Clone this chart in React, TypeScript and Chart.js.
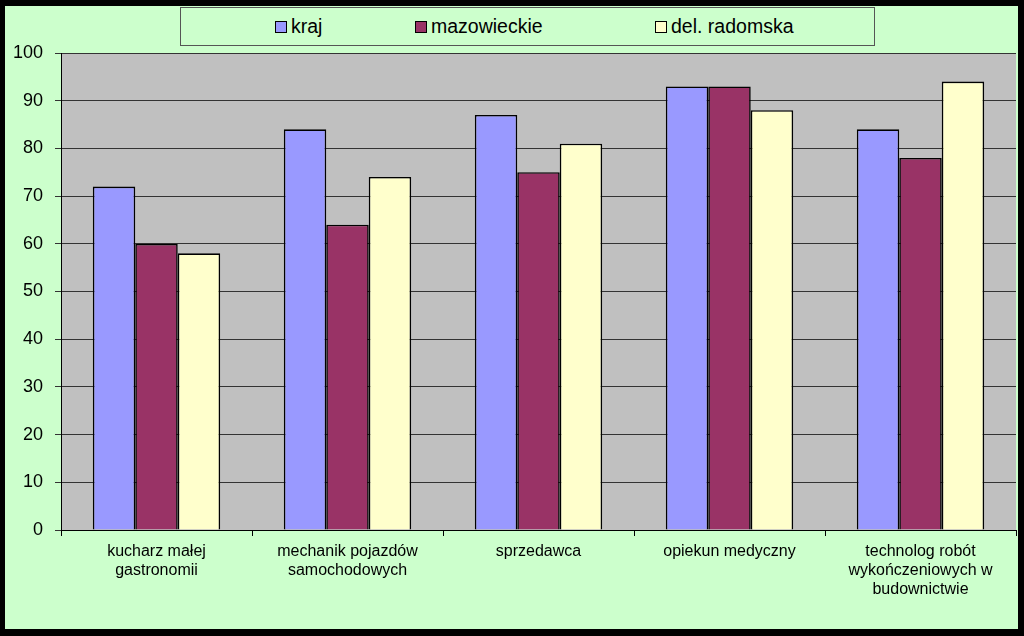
import React, { useEffect, useRef } from "react";
import { Chart, registerables } from "chart.js";

Chart.register(...registerables);

const categories: string[][] = [
  ["kucharz małej", "gastronomii"],
  ["mechanik pojazdów", "samochodowych"],
  ["sprzedawca"],
  ["opiekun medyczny"],
  ["technolog robót", "wykończeniowych w", "budownictwie"],
];
const seriesNames = ["kraj", "mazowieckie", "del. radomska"];
const kraj = [72, 84, 87, 93, 84];
const mazowieckie = [60, 64, 75, 93, 78];
const delRadomska = [58, 74, 81, 88, 94];
const seriesColors = ["#9999FF", "#993366", "#FFFFCC"];
const yTicks = [0, 10, 20, 30, 40, 50, 60, 70, 80, 90, 100];

const FONT = "'Liberation Sans', Arial, sans-serif";

const plotBg = {
  id: "plotBg",
  beforeDraw(chart: any) {
    const { ctx, chartArea } = chart;
    ctx.save();
    ctx.fillStyle = "#C0C0C0";
    ctx.fillRect(chartArea.left, chartArea.top, chartArea.right - chartArea.left, chartArea.bottom - chartArea.top);
    ctx.restore();
  },
};

export default function App() {
  const ref = useRef<HTMLCanvasElement>(null);
  useEffect(() => {
    document.body.style.margin = "0";
    const values = [kraj, mazowieckie, delRadomska];
    const chart = new Chart(ref.current!, {
      type: "bar",
      data: {
        labels: categories,
        datasets: seriesNames.map((n, i) => ({
          label: n,
          data: values[i],
          backgroundColor: seriesColors[i],
          borderColor: "#000",
          borderWidth: 1.6,
          categoryPercentage: 0.667,
          barPercentage: 1,
        })),
      },
      options: {
        animation: false,
        responsive: false,
        maintainAspectRatio: false,
        layout: { padding: { top: 53, right: 8, left: 0, bottom: 0 } },
        plugins: { legend: { display: false }, tooltip: { enabled: false } },
        scales: {
          x: {
            offset: true,
            grid: { offset: true, drawOnChartArea: false, drawTicks: true, tickLength: 6, color: "#000" },
            border: { color: "#000", width: 1 },
            ticks: { color: "#000", font: { family: FONT, size: 16, lineHeight: 1.2 }, padding: 6, maxRotation: 0, autoSkip: false },
            afterFit: (s: any) => { s.height = 106; },
          },
          y: {
            min: 0,
            max: 100,
            afterBuildTicks: (s: any) => { s.ticks = yTicks.map((v) => ({ value: v })); },
            grid: { color: "#333", tickLength: 6, drawTicks: true },
            border: { color: "#000", width: 1 },
            ticks: { color: "#000", font: { family: FONT, size: 18 }, padding: 12 },
            afterFit: (s: any) => { s.width = 61; },
          },
        },
      },
      plugins: [plotBg],
    });
    return () => chart.destroy();
  }, []);

  return (
    <div style={{ position: "fixed", left: 0, top: 0, width: 1024, height: 636, background: "#000" }}>
      <div style={{ position: "absolute", left: 5, top: 6, width: 1013, height: 623, background: "#CCFFCC" }} />
      <div
        style={{
          position: "absolute", left: 180, top: 7, width: 693, height: 37,
          border: "1px solid #555", display: "flex", alignItems: "center",
          fontFamily: FONT, fontSize: 19.5, color: "#000",
        }}
      >
        {seriesNames.map((n, i) => (
          <div key={n} style={{ position: "absolute", left: [94, 234, 474][i], display: "flex", alignItems: "center" }}>
            <span style={{ display: "inline-block", width: 10, height: 10, background: seriesColors[i], border: "1px solid #000", marginRight: 4 }} />
            <span>{n}</span>
          </div>
        ))}
      </div>
      <canvas ref={ref} width={1024} height={636} style={{ position: "absolute", left: 0, top: 0 }} />
    </div>
  );
}
